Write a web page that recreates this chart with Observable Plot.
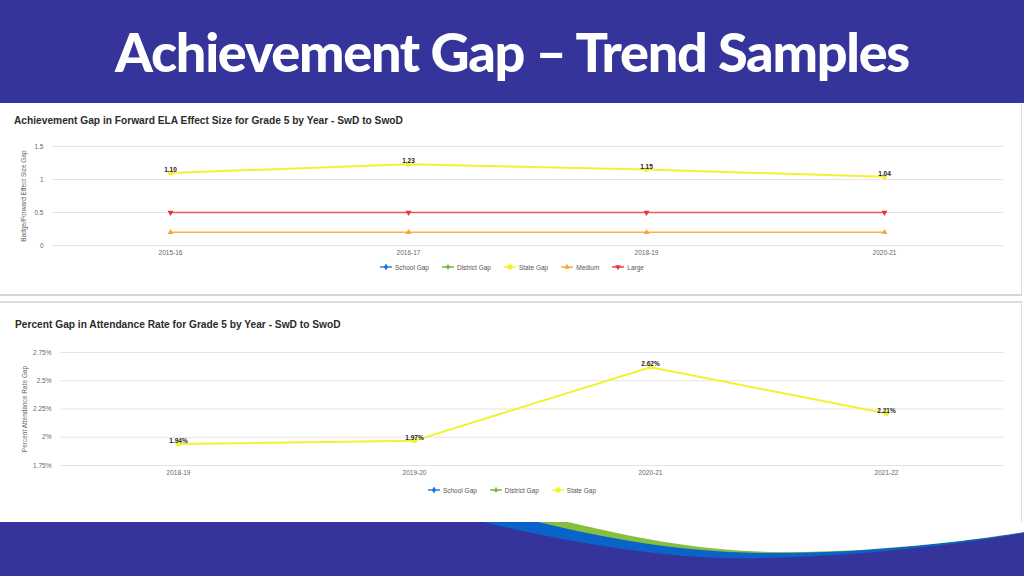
<!DOCTYPE html>
<html>
<head>
<meta charset="utf-8">
<script src="https://cdn.jsdelivr.net/npm/d3@7"></script>
<script src="https://cdn.jsdelivr.net/npm/@observablehq/plot@0.6"></script>
<style>
  html, body { margin: 0; padding: 0; }
  body { width: 1024px; height: 576px; position: relative; overflow: hidden; background: #ffffff; font-family: "Liberation Sans", Arial, sans-serif; }
  #header { position: absolute; left: 0; top: 0; width: 1024px; height: 103px; background: #34349a; }
  #header h1 { margin: 0; position: absolute; left: 0; width: 1024px; top: 20px; text-align: center; color: #fff; font-family: Lato, sans-serif; font-weight: 900; font-size: 54px; letter-spacing: -1.3px; line-height: 64px; }
  .panel { position: absolute; left: 0; width: 1021px; background: #fff; border-right: 1px solid #dcdcdc; }
  #p1 { top: 103px; height: 191px; border-bottom: 2px solid #d6d6d6; }
  #p2 { top: 301px; height: 221px; border-top: 2px solid #dedede; }
  .ctitle { position: absolute; font-weight: bold; font-size: 10.2px; color: #2b2b2b; white-space: nowrap; }
  .chart { position: absolute; left: 0; }
  .legend { position: absolute; left: 0; width: 1024px; display: flex; justify-content: center; gap: 13px; font-size: 6.5px; color: #555; font-family: "Liberation Sans", Arial, sans-serif; }
  .legend span.item { display: inline-flex; align-items: center; gap: 3px; }
  #footer { position: absolute; left: 0; top: 522px; width: 1024px; height: 54px; }
</style>
</head>
<body>
<div id="header"><h1>Achievement Gap – Trend Samples</h1></div>
<div class="panel" id="p1"></div>
<div class="panel" id="p2"></div>
<div class="ctitle" style="left:14px; top:115px;">Achievement Gap in Forward ELA Effect Size for Grade 5 by Year - SwD to SwoD</div>
<div class="ctitle" style="left:15px; top:319px;">Percent Gap in Attendance Rate for Grade 5 by Year - SwD to SwoD</div>
<div class="chart" id="c1" style="top:130px;"></div>
<div class="legend" id="l1" style="top:263px;"></div>
<div class="chart" id="c2" style="top:340px;"></div>
<div class="legend" id="l2" style="top:486px;"></div>
<svg id="footer" width="1024" height="54" viewBox="0 522 1024 54">
  <rect x="0" y="522" width="1024" height="54" fill="#34349a"></rect>
  <path d="M483 522 C600 550 690 560 760 558 C870 556 970 543 1024 533 L1024 522 Z" fill="#0a63c9"></path>
  <path d="M538 522 C630 544 700 553 772 553 C870 553 970 541 1024 532 L1024 522 Z" fill="#86bf3f"></path>
  <path d="M568 522 C660 544 720 552 786 552 C880 552 975 540 1024 532 L1024 522 Z" fill="#ffffff"></path>
</svg>
<script>
// ---- Data: chart 1 ----
const years1 = ["2015-16", "2016-17", "2018-19", "2020-21"];
const stateGap1 = [1.10, 1.23, 1.15, 1.04];
const medium1 = [0.2, 0.2, 0.2, 0.2];
const large1 = [0.5, 0.5, 0.5, 0.5];
const yTicks1 = [0, 0.5, 1, 1.5];
const legend1 = ["School Gap", "District Gap", "State Gap", "Medium", "Large"];

// ---- Data: chart 2 ----
const years2 = ["2018-19", "2019-20", "2020-21", "2021-22"];
const stateGap2 = [1.94, 1.97, 2.62, 2.21];
const yTicks2 = [1.75, 2, 2.25, 2.5, 2.75];
const legend2 = ["School Gap", "District Gap", "State Gap"];

const colors = {
  "School Gap": "#1d6fe0",
  "District Gap": "#6dbb2f",
  "State Gap": "#f2f232",
  "Medium": "#f5a834",
  "Large": "#e8333a"
};
const rotations = { "School Gap": 0, "District Gap": 0, "State Gap": 0, "Medium": 0, "Large": 180 };

const t1 = years1.map((y, i) => ({year: y, state: stateGap1[i], medium: medium1[i], large: large1[i]}));
const t2 = years2.map((y, i) => ({year: y, state: stateGap2[i]}));

const axisStyle = {fontSize: "6.5px", fontFamily: "Liberation Sans, Arial, sans-serif", color: "#666"};

const chart1 = Plot.plot({
  width: 1024, height: 130,
  marginLeft: 50, marginRight: 21, marginTop: 16, marginBottom: 15,
  style: axisStyle,
  x: {type: "point", domain: years1, padding: 0.5, label: null, tickSize: 0, tickPadding: 5},
  y: {domain: [0, 1.5], ticks: yTicks1, tickFormat: d => String(d), tickSize: 0, tickPadding: 7,
      label: "Badge/Forward Effect Size Gap", labelAnchor: "center", labelOffset: 29, labelArrow: "none", grid: false},
  marks: [
    Plot.ruleY(yTicks1, {stroke: "#e4e4e4", strokeWidth: 1, insetLeft: 2}),
    Plot.lineY(t1, {x: "year", y: "medium", stroke: colors["Medium"], strokeWidth: 1.6, strokeOpacity: 0.9}),
    Plot.dot(t1, {x: "year", y: "medium", symbol: "triangle", r: 2.2, fill: colors["Medium"], stroke: "none"}),
    Plot.lineY(t1, {x: "year", y: "large", stroke: colors["Large"], strokeWidth: 1.6, strokeOpacity: 0.8}),
    Plot.dot(t1, {x: "year", y: "large", symbol: "triangle", rotate: 180, r: 2.2, fill: colors["Large"], stroke: "none"}),
    Plot.lineY(t1, {x: "year", y: "state", stroke: colors["State Gap"], strokeWidth: 2}),
    Plot.dot(t1, {x: "year", y: "state", r: 2.5, fill: colors["State Gap"], stroke: "none"}),
    Plot.text(t1, {x: "year", y: "state", text: d => d.state.toFixed(2), dy: -3, fontSize: 6.5, fontWeight: "bold", fill: "#222"})
  ]
});
document.getElementById("c1").appendChild(chart1);

const chart2 = Plot.plot({
  width: 1024, height: 140,
  marginLeft: 59, marginRight: 20, marginTop: 12, marginBottom: 15,
  style: axisStyle,
  x: {type: "point", domain: years2, padding: 0.5, label: null, tickSize: 0, tickPadding: 5},
  y: {domain: [1.75, 2.75], ticks: yTicks2, tickFormat: d => d + "%", tickSize: 0, tickPadding: 8,
      label: "Percent Attendance Rate Gap", labelAnchor: "center", labelOffset: 37, labelArrow: "none"},
  marks: [
    Plot.ruleY(yTicks2, {stroke: "#e4e4e4", strokeWidth: 1, insetLeft: 1}),
    Plot.lineY(t2, {x: "year", y: "state", stroke: colors["State Gap"], strokeWidth: 2}),
    Plot.dot(t2, {x: "year", y: "state", r: 2.5, fill: colors["State Gap"], stroke: "none"}),
    Plot.text(t2, {x: "year", y: "state", text: d => d.state.toFixed(2) + "%", dy: -3, fontSize: 6.5, fontWeight: "bold", fill: "#222"})
  ]
});
document.getElementById("c2").appendChild(chart2);

function buildLegend(id, names) {
  const el = document.getElementById(id);
  for (const n of names) {
    const item = document.createElement("span");
    item.className = "item";
    const sym = d3.symbol(n === "State Gap" ? d3.symbolCircle : n === "School Gap" ? d3.symbolDiamond : n === "District Gap" ? d3.symbolCross : d3.symbolTriangle, n === "State Gap" ? 22 : 14)();
    item.innerHTML = `<svg width="12" height="8" viewBox="-6 -4 12 8"><line x1="-6" x2="6" y1="0" y2="0" stroke="${colors[n]}" stroke-width="1.4"/><path d="${sym}" fill="${colors[n]}" transform="rotate(${rotations[n]})"/></svg><span>${n}</span>`;
    el.appendChild(item);
  }
}
buildLegend("l1", legend1);
buildLegend("l2", legend2);
</script>
</body>
</html>
